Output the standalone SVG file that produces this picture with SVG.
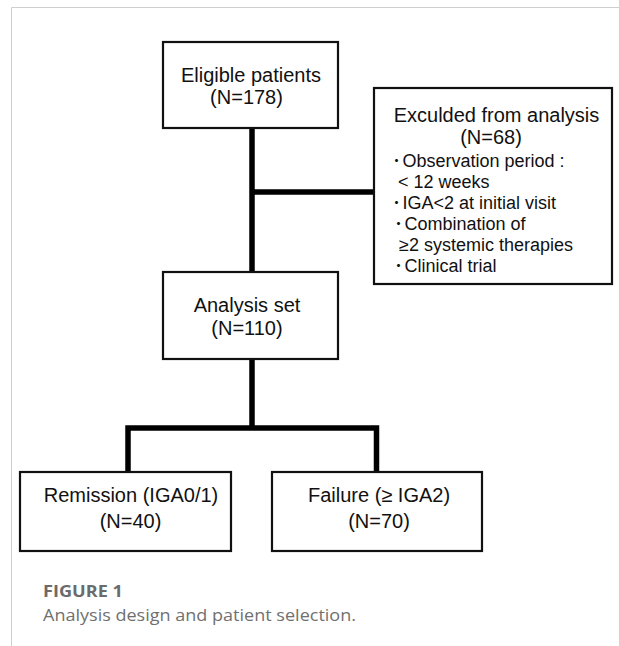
<svg xmlns="http://www.w3.org/2000/svg" width="619" height="646" viewBox="0 0 619 646">
<style>
.box{fill:#fff;stroke:#111;stroke-width:2.2}
.t{font-family:"Liberation Sans",Arial,sans-serif;font-size:20px;fill:#111}
.s{font-family:"Liberation Sans",Arial,sans-serif;font-size:18px;fill:#111}
.dot{font-family:"Noto Sans CJK JP",sans-serif;font-size:12px;font-weight:700}
.c{fill:none;stroke:#000;stroke-width:5.5;stroke-linejoin:miter;stroke-linecap:butt}
.cap1{font-family:"Open Sans",Lato,sans-serif;font-size:16px;font-weight:700;fill:#6b6b6b}
.cap2{font-family:"Open Sans",Lato,sans-serif;font-size:15.5px;fill:#707070}
</style>
<rect width="619" height="646" fill="#fff"/>
<path d="M11.5,646 V7.5 H619" fill="none" stroke="#cfcfcf" stroke-width="1"/>
<g id="connectors">
<path class="c" d="M252,128 V272"/>
<path class="c" d="M252,192 H374"/>
<path class="c" d="M252,359 V428"/>
<path class="c" d="M128,472 V428 H376.5 V472"/>
</g>
<g id="eligible">
<rect class="box" x="163" y="42" width="175" height="86"/>
<text class="t" x="251" y="82" text-anchor="middle">Eligible patients</text>
<text class="t" x="246.5" y="104" text-anchor="middle">(N=178)</text>
</g>
<g id="excluded">
<rect class="box" x="374" y="88" width="238" height="196"/>
<text class="t" x="496.5" y="122" text-anchor="middle">Exculded from analysis</text>
<text class="t" x="491" y="144" text-anchor="middle">(N=68)</text>
<text class="s" x="390.5" y="166.5"><tspan class="dot" dy="-1">・</tspan><tspan dy="1">Observation period :</tspan></text>
<text class="s" x="398" y="187.5">&lt; 12 weeks</text>
<text class="s" x="390.5" y="208.5"><tspan class="dot" dy="-1">・</tspan><tspan dy="1">IGA&lt;2 at initial visit</tspan></text>
<text class="s" x="392.5" y="229.5"><tspan class="dot" dy="-1">・</tspan><tspan dy="1">Combination of</tspan></text>
<text class="s" x="399" y="250.5">≥2 systemic therapies</text>
<text class="s" x="392.5" y="271.5"><tspan class="dot" dy="-1">・</tspan><tspan dy="1">Clinical trial</tspan></text>
</g>
<g id="analysis">
<rect class="box" x="163" y="272" width="175" height="87"/>
<text class="t" x="247" y="312" text-anchor="middle">Analysis set</text>
<text class="t" x="247" y="335" text-anchor="middle">(N=110)</text>
</g>
<g id="remission">
<rect class="box" x="20" y="472" width="211" height="79"/>
<text class="t" x="131" y="502" text-anchor="middle">Remission (IGA0/1)</text>
<text class="t" x="130.5" y="528" text-anchor="middle">(N=40)</text>
</g>
<g id="failure">
<rect class="box" x="272" y="472" width="210" height="79"/>
<text class="t" x="379" y="502" text-anchor="middle">Failure (≥ IGA2)</text>
<text class="t" x="379" y="528" text-anchor="middle">(N=70)</text>
</g>
<text class="cap1" x="43" y="597" textLength="80" lengthAdjust="spacingAndGlyphs">FIGURE 1</text>
<text class="cap2" x="43" y="621" textLength="313" lengthAdjust="spacingAndGlyphs">Analysis design and patient selection.</text>
</svg>
